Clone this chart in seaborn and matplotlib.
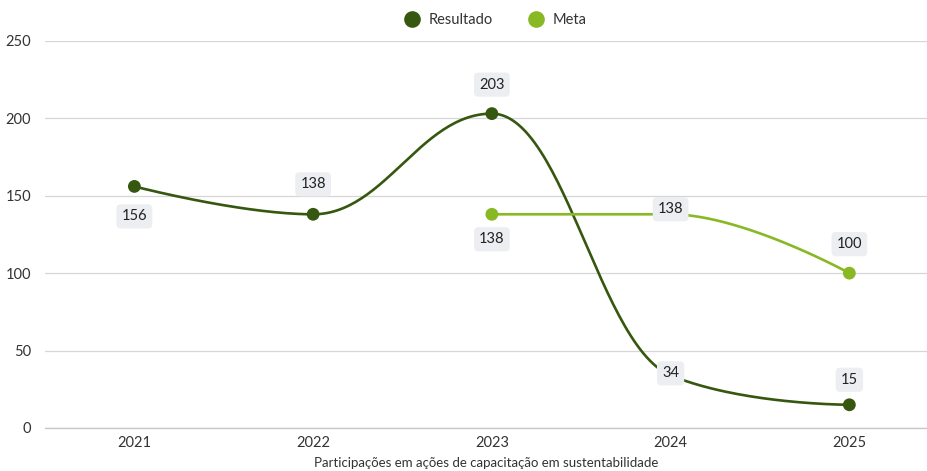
import matplotlib
matplotlib.use("Agg")
import matplotlib.pyplot as plt
import seaborn as sns
import numpy as np
from matplotlib.lines import Line2D

# Chart data
years = ["2021", "2022", "2023", "2024", "2025"]
resultado = [156, 138, 203, 34, 15]
meta = [None, None, 138, 138, 100]
y_ticks = [0, 50, 100, 150, 200, 250]
x_title = "Participações em ações de capacitação em sustentabilidade"

# label offsets in pixels (negative = above point)
res_label_dy = [30, -30, -29, -2, -25]
meta_label_dy = [0, 0, 25, -5, -29]

DARK = "#36570f"
LIGHT = "#88b925"


def spline_path(xs, ys, n=60):
    """Smooth path through points, no overshoot at local extremes."""
    smoothing = 1.5
    denom = smoothing + 1
    m = len(xs)
    lc = [None] * m
    rc = [None] * m
    for i in range(1, m - 1):
        lx, ly = xs[i - 1], ys[i - 1]
        px, py = xs[i], ys[i]
        nx, ny = xs[i + 1], ys[i + 1]
        lcx = (smoothing * px + lx) / denom
        lcy = (smoothing * py + ly) / denom
        rcx = (smoothing * px + nx) / denom
        rcy = (smoothing * py + ny) / denom
        if rcx != lcx:
            corr = (rcy - lcy) * (rcx - px) / (rcx - lcx) + py - rcy
            lcy += corr
            rcy += corr
        if lcy > ly and lcy > py:
            lcy = max(ly, py)
            rcy = 2 * py - lcy
        elif lcy < ly and lcy < py:
            lcy = min(ly, py)
            rcy = 2 * py - lcy
        if rcy > ny and rcy > py:
            rcy = max(ny, py)
            lcy = 2 * py - rcy
        elif rcy < ny and rcy < py:
            rcy = min(ny, py)
            lcy = 2 * py - rcy
        lc[i] = (lcx, lcy)
        rc[i] = (rcx, rcy)
    out_x, out_y = [], []
    t = np.linspace(0, 1, n)
    for i in range(1, m):
        p0 = np.array([xs[i - 1], ys[i - 1]])
        p3 = np.array([xs[i], ys[i]])
        p1 = np.array(rc[i - 1]) if rc[i - 1] else p0
        p2 = np.array(lc[i]) if lc[i] else p3
        seg = ((1 - t) ** 3)[:, None] * p0 + (3 * (1 - t) ** 2 * t)[:, None] * p1 \
            + (3 * (1 - t) * t ** 2)[:, None] * p2 + (t ** 3)[:, None] * p3
        out_x.extend(seg[:, 0])
        out_y.extend(seg[:, 1])
    return np.array(out_x), np.array(out_y)


sns.set_theme(style="white")
plt.rcParams["font.family"] = ["Lato", "DejaVu Sans"]

fig = plt.figure(figsize=(9.28, 4.71), dpi=100)
ax = fig.add_axes([0.0485, 0.0913, 0.9515, 0.822])

series = [("Resultado", resultado, DARK, res_label_dy),
          ("Meta", meta, LIGHT, meta_label_dy)]

for name, vals, color, dys in series:
    idx = [i for i, v in enumerate(vals) if v is not None]
    xs = [float(i) for i in idx]
    ys = [float(vals[i]) for i in idx]
    cx, cy = spline_path(xs, ys)
    sns.lineplot(x=cx, y=cy, color=color, linewidth=1.9, sort=False, ax=ax, zorder=3)
    sns.scatterplot(x=xs, y=ys, color=color, s=85, edgecolor="none", ax=ax, zorder=4)
    for i in idx:
        ax.annotate(str(vals[i]), xy=(i, vals[i]), xytext=(0, -dys[i] * 0.72),
                    textcoords="offset points", ha="center", va="center",
                    fontsize=10.5, color="#222222", zorder=6,
                    bbox=dict(boxstyle="round,pad=0.35,rounding_size=0.3",
                              fc="#eceef1", ec="none"))

ax.set_xlim(-0.5, 4.44)
ax.set_ylim(0, 250)
ax.set_xticks(range(len(years)))
ax.set_xticklabels(years)
ax.set_yticks(y_ticks)
ax.yaxis.grid(True, color="#d6d6d6", linewidth=0.9)
ax.set_axisbelow(True)
for s in ["top", "right", "left"]:
    ax.spines[s].set_visible(False)
ax.spines["bottom"].set_color("#c8c8c8")
ax.spines["bottom"].set_linewidth(1.0)
ax.tick_params(axis="both", length=0, labelsize=10.5, colors="#333333")
ax.tick_params(axis="x", pad=6)
ax.tick_params(axis="y", pad=10)
ax.set_xlabel(x_title, fontsize=9.5, color="#333333", labelpad=5)
ax.set_ylabel("")

handles = [Line2D([0], [0], marker="o", linestyle="none", markersize=12,
                  markerfacecolor=c, markeredgecolor="none") for _, _, c, _ in series]
fig.legend(handles, [n for n, _, _, _ in series], loc="upper center",
           bbox_to_anchor=(0.53, 1.0), ncol=2, frameon=False, fontsize=10.5,
           handletextpad=0.1, columnspacing=2.0, labelcolor="#333333")

fig.savefig("out.png", dpi=100)
